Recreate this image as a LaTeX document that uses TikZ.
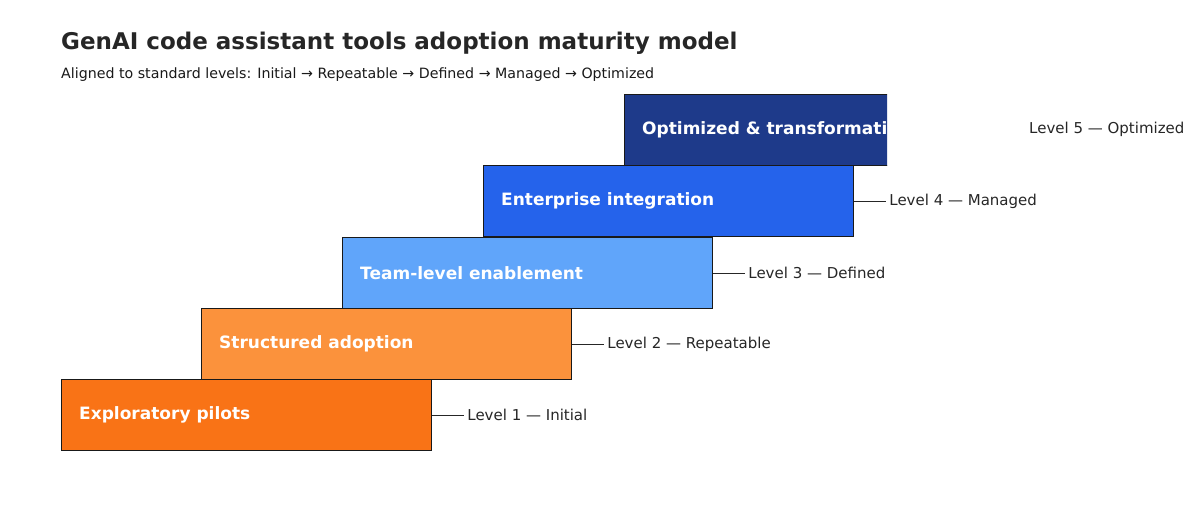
\documentclass[tikz,border=0pt]{standalone}
\usepackage{fontspec}
\setmainfont{DejaVu Sans}
\begin{document}
\begin{tikzpicture}[x=1pt,y=-1pt,
  stepbox/.style={draw=black!90,line width=1.2pt,minimum width=370pt,minimum height=71pt,anchor=north west,inner sep=0pt},
  boxtxt/.style={font=\fontsize{17}{20}\selectfont\bfseries,text=white,anchor=west},
  lvl/.style={font=\fontsize{15}{18}\selectfont,text=black!85,anchor=west,inner sep=0pt},
  conn/.style={draw=black!85,line width=1.2pt}]
\useasboundingbox (0,0) rectangle (1200,516);
\node[font=\fontsize{23}{27}\selectfont\bfseries,text=black!85,anchor=west,inner sep=0pt] (title) at (61,43) {GenAI code assistant tools adoption maturity model};
\node[font=\fontsize{14.2}{17}\selectfont,text=black!90,anchor=west,inner sep=0pt] (sub) at (61,75) {Aligned to standard levels: Initial → Repeatable → Defined → Managed → Optimized};
\definecolor{c1}{HTML}{F97316}\definecolor{c2}{HTML}{FB923C}\definecolor{c3}{HTML}{60A5FA}\definecolor{c4}{HTML}{2563EB}\definecolor{c5}{HTML}{1E3A8A}
\foreach \i/\x/\y/\t/\l in {1/61/379/Exploratory pilots/Level 1 — Initial,2/201/308/Structured adoption/Level 2 — Repeatable,3/342/237/Team-level enablement/Level 3 — Defined,4/483/165/Enterprise integration/Level 4 — Managed}{
  \node[stepbox,fill=c\i] (b\i) at (\x,\y) {};
  \node[boxtxt,inner sep=0pt] (t\i) at ([xshift=18pt]b\i.west) {\t};
  \coordinate (e\i) at ([xshift=32pt]b\i.east);
  \draw[conn] (b\i.east) -- (e\i);
  \node[lvl] (l\i) at ([xshift=3pt]e\i) {\l};
}
\begin{scope}
\clip (620,90) rectangle (887,170);
\node[stepbox,fill=c5] (b5) at (624,94) {};
\node[boxtxt,inner sep=0pt] (t5) at ([xshift=18pt]b5.west) {Optimized \& transformative};
\end{scope}
\node[lvl] (l5) at (1029,129) {Level 5 — Optimized};
\end{tikzpicture}
\end{document}
